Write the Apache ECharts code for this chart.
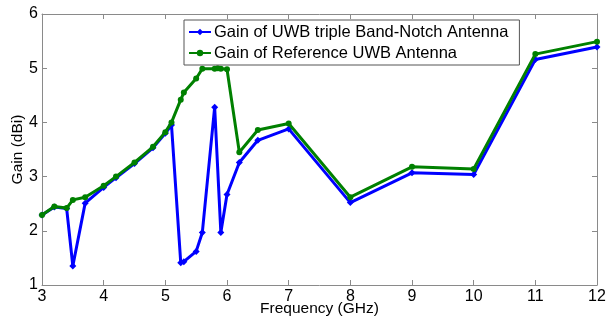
<!DOCTYPE html>
<html>
<head>
<meta charset="utf-8">
<script src="https://cdn.jsdelivr.net/npm/echarts@6/dist/echarts.min.js"></script>
<style>
  html, body { margin: 0; padding: 0; background: #fff; }
  #chart { width: 607px; height: 321px; }
</style>
</head>
<body>
<div id="chart"></div>
<script>
// Gain of the notched UWB antenna vs. the reference UWB antenna
const notchFreq = [3, 3.2, 3.4, 3.5, 3.7, 4, 4.2, 4.5, 4.8, 5, 5.1, 5.25, 5.3, 5.5, 5.6, 5.8, 5.9, 6, 6.2, 6.5, 7, 8, 9, 10, 11, 12];
const notchGain = [2.29, 2.44, 2.41, 1.35, 2.51, 2.8, 2.98, 3.24, 3.53, 3.8, 3.95, 1.41, 1.43, 1.62, 1.97, 4.28, 1.97, 2.67, 3.26, 3.67, 3.88, 2.52, 3.07, 3.04, 5.16, 5.39];

const refFreq = [3, 3.2, 3.4, 3.5, 3.7, 4, 4.2, 4.5, 4.8, 5, 5.1, 5.25, 5.3, 5.5, 5.6, 5.8, 5.85, 5.9, 6, 6.2, 6.5, 7, 8, 9, 10, 11, 12];
const refGain = [2.29, 2.45, 2.42, 2.57, 2.62, 2.83, 3.0, 3.26, 3.55, 3.82, 4.0, 4.42, 4.55, 4.81, 4.99, 4.99, 5.0, 4.99, 4.98, 3.45, 3.86, 3.98, 2.62, 3.18, 3.14, 5.26, 5.49];

const seriesNames = ['Gain of UWB triple Band-Notch Antenna', 'Gain of Reference UWB Antenna'];
const xTitle = 'Frequency (GHz)';
const yTitle = 'Gain (dBi)';

const pairs = (xs, ys) => xs.map((x, i) => [x, ys[i]]);

const FONT = '"Liberation Sans", Arial, sans-serif';
const axisGray = '#8a8a8a';

const chart = echarts.init(document.getElementById('chart'), null, { renderer: 'canvas' });

const baseX = {
  type: 'value', min: 3, max: 12, interval: 1,
  axisLine: { show: true, onZero: false, lineStyle: { color: axisGray, width: 1 } },
  axisTick: { show: true, inside: true, length: 5, lineStyle: { color: axisGray } },
  splitLine: { show: false }
};
const baseY = {
  type: 'value', min: 1, max: 6, interval: 1,
  axisLine: { show: true, onZero: false, lineStyle: { color: axisGray, width: 1 } },
  axisTick: { show: true, inside: true, length: 5, lineStyle: { color: axisGray } },
  splitLine: { show: false }
};

chart.setOption({
  animation: false,
  backgroundColor: '#fff',
  grid: { left: 42, right: 10, top: 14, bottom: 36, containLabel: false, outerBoundsMode: 'none' },
  legend: {
    orient: 'vertical',
    left: 184, top: 20,
    itemWidth: 22, itemHeight: 8, itemGap: 3,
    padding: [3, 11, 3, 4],
    borderColor: '#555', borderWidth: 1, borderRadius: 0,
    backgroundColor: '#fff',
    textStyle: { fontFamily: FONT, fontSize: 16.5, lineHeight: 18, color: '#000', padding: [0, 0, 0, -2] },
    data: seriesNames
  },
  xAxis: [
    Object.assign({}, baseX, {
      position: 'bottom',
      name: xTitle, nameLocation: 'middle', nameGap: 16, nameMoveOverlap: false,
      nameTextStyle: { fontFamily: FONT, fontSize: 15.5, color: '#000' },
      axisLabel: { fontFamily: FONT, fontSize: 16, color: '#000', margin: 4 }
    }),
    Object.assign({}, baseX, { position: 'top', axisLabel: { show: false } })
  ],
  yAxis: [
    Object.assign({}, baseY, {
      position: 'left',
      name: yTitle, nameLocation: 'middle', nameGap: 16, nameRotate: 90, nameMoveOverlap: false,
      nameTextStyle: { fontFamily: FONT, fontSize: 15.5, color: '#000' },
      axisLabel: { fontFamily: FONT, fontSize: 16, color: '#000', margin: 4 }
    }),
    Object.assign({}, baseY, { position: 'right', axisLabel: { show: false } })
  ],
  series: [
    {
      name: seriesNames[0], type: 'line',
      data: pairs(notchFreq, notchGain),
      symbol: 'diamond', symbolSize: 7,
      lineStyle: { color: '#0000ff', width: 3 },
      itemStyle: { color: '#0000ff' },
      z: 2
    },
    {
      name: seriesNames[1], type: 'line',
      data: pairs(refFreq, refGain),
      symbol: 'circle', symbolSize: 6,
      lineStyle: { color: '#008000', width: 3 },
      itemStyle: { color: '#008000' },
      z: 3
    }
  ]
});
</script>
</body>
</html>
